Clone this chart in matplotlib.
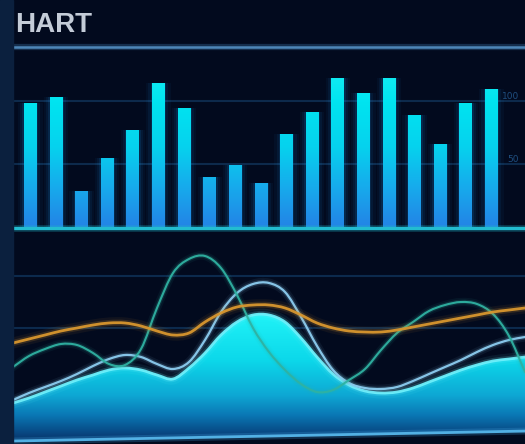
import numpy as np
import matplotlib.pyplot as plt
from matplotlib.colors import LinearSegmentedColormap
from matplotlib.lines import Line2D
from matplotlib.patches import Rectangle, PathPatch
from matplotlib.path import Path

W, H = 525, 444

title = "HART"

# bar panel
bar_values = [98, 103, 29, 55, 77, 114, 94, 40, 49, 35, 74, 91, 118, 106, 118, 89, 66, 98, 109]
bar_ticks = [50, 100]
bar_tick_labels = ["50", "100"]

# line panel, one reading every 16 px across
area_values = [20.5, 23, 26, 29, 32, 34.5, 37, 38, 37, 34.5, 32.5, 38, 45.5, 54.5, 61, 64.5, 64.5,
               61, 53, 43.5, 35, 29.5, 26.5, 25.5, 26, 28, 31, 34, 37, 39.5, 41.5, 42.5, 43.5]
pale_values = [22, 25.5, 28.5, 31.5, 35, 39, 42.5, 44.5, 43.5, 40, 37.5, 41, 52, 66, 75.5, 80, 80.5,
               76, 63.5, 49, 37, 30.5, 28, 27.5, 28.5, 31.5, 35, 38.5, 42, 46, 49.5, 52, 53.5]
teal_values = [38.5, 44, 47.5, 50, 49.5, 45.5, 40, 39.5, 47.5, 68, 85.5, 92.5, 94, 88, 74.5, 58, 46,
               37, 30, 26, 27, 32, 37.5, 47, 55.5, 61, 66.5, 69.5, 71, 70, 65, 54, 36]
orange_values = [50.5, 52.5, 54.5, 56.5, 58, 59.5, 60.5, 60.5, 59, 56.5, 54.5, 55.5, 61, 65.5, 68.5, 69.5, 69.5,
                 68, 64.5, 60.5, 58, 56.5, 56, 56, 57, 58.5, 60, 61.5, 63, 64.5, 66, 67, 68]
line_grid = [58, 84]

bg = "#020a1e"
strip = "#0b203e"


def curve_path(x, y, close_to=None):
    # bezier through the read points, so the lines come out smooth
    p = np.column_stack([x, y]).astype(float)
    n = len(p)
    d = np.zeros_like(p)
    d[1:-1] = (p[2:] - p[:-2]) / 6
    d[0] = (p[1] - p[0]) / 3
    d[-1] = (p[-1] - p[-2]) / 3
    verts = [p[0]]
    codes = [Path.MOVETO]
    for i in range(n - 1):
        verts += [p[i] + d[i], p[i + 1] - d[i + 1], p[i + 1]]
        codes += [Path.CURVE4] * 3
    if close_to is not None:
        verts += [(p[-1, 0], close_to), (p[0, 0], close_to), p[0]]
        codes += [Path.LINETO, Path.LINETO, Path.CLOSEPOLY]
    return Path(verts, codes)


def glow_curve(ax, x, y, color, lw, z):
    path = curve_path(x, y)
    for k, a in [(4, 0.07), (2.2, 0.18), (1, 0.95)]:
        ax.add_patch(PathPatch(path, fill=False, edgecolor=color, lw=lw * k, alpha=a,
                               capstyle="round", zorder=z))


fig = plt.figure(figsize=(W / 100, H / 100), dpi=100, facecolor=bg)
fig.add_artist(Rectangle((0, 0), 13 / W, 1, transform=fig.transFigure, color=strip, zorder=5))

fig.text(15 / W, 1 - 24.5 / H, title, fontsize=20, fontweight="bold", family="Liberation Sans",
         color="#c4ccd8", va="center", ha="left")
fig.add_artist(Line2D([13 / W, 1], [1 - 47 / H] * 2, transform=fig.transFigure,
                      color="#3b74a6", lw=4.5, alpha=0.35))
fig.add_artist(Line2D([13 / W, 1], [1 - 47 / H] * 2, transform=fig.transFigure,
                      color="#4d86b8", lw=1.8))

# ---- bars
axb = fig.add_axes([13 / W, 1 - 227.5 / H, 512 / W, (227.5 - 50) / H])
axb.set_facecolor("none")
x = np.arange(len(bar_values))
for w, a in [(0.95, 0.05), (0.78, 0.08), (0.62, 0.13)]:
    axb.bar(x, bar_values, width=w, color="#1b8fe0", alpha=a, lw=0, zorder=2)
bars = axb.bar(x, bar_values, width=0.5, color="none", lw=0, zorder=3)
bar_cmap = LinearSegmentedColormap.from_list(
    "bars", [(0, "#2384e6"), (0.22, "#17aaec"), (0.45, "#06d2ee"), (0.7, "#00e4f0"), (1, "#1ff2f4")])
grad = np.linspace(0, 1, 256).reshape(-1, 1)
for b in bars:
    im = axb.imshow(grad, extent=(b.get_x(), b.get_x() + b.get_width(), 0, 140), origin="lower",
                    aspect="auto", cmap=bar_cmap, zorder=3)
    im.set_clip_path(b)

axb.axhline(0, color="#1fb4c8", lw=5, alpha=0.25, zorder=4, clip_on=False)
axb.axhline(0, color="#22bcd0", lw=2.4, zorder=4, clip_on=False)
axb.set_xlim(-0.68, 19.31)
axb.set_ylim(0, 140)
axb.set_yticks(bar_ticks)
axb.set_yticklabels(bar_tick_labels, ha="right", va="bottom")
axb.yaxis.tick_right()
axb.tick_params(axis="y", length=0, pad=-4.5, labelsize=6.5, labelcolor="#1f4f80")
axb.set_xticks([])
axb.grid(axis="y", color="#0d2a4c", lw=1.5)
axb.set_axisbelow(True)
for s in axb.spines.values():
    s.set_visible(False)

# ---- lines
axl = fig.add_axes([13 / W, 0, 512 / W, (444 - 232) / H])
axl.set_facecolor("none")
xs = np.arange(len(area_values))

area_patch = PathPatch(curve_path(xs, area_values, close_to=0), facecolor="none", lw=0, zorder=2)
axl.add_patch(area_patch)
area_cmap = LinearSegmentedColormap.from_list(
    "area", [(0, "#062e5c"), (0.064, "#08427c"), (0.207, "#0a78b5"), (0.35, "#0ea8d4"),
             (0.6, "#0cd8ea"), (0.92, "#1ff2f7"), (1, "#30f4f8")])
im = axl.imshow(grad, extent=(0, 32, 0, 70), origin="lower", aspect="auto", cmap=area_cmap, zorder=2)
im.set_clip_path(area_patch)
glow_curve(axl, xs, area_values, "#6ef0fb", 2.0, 3)

glow_curve(axl, xs, pale_values, "#8ccdf0", 1.6, 4)
glow_curve(axl, xs, teal_values, "#2fb2a2", 1.5, 5)
glow_curve(axl, xs, orange_values, "#d8962e", 2.0, 6)

# bottom rail
axl.fill([0, 1, 1, 0], [0, 0, 0.061, 0.014], transform=axl.transAxes, color=bg, lw=0, zorder=7)
axl.plot([0, 1], [0.014, 0.061], transform=axl.transAxes, color="#3fa0dc", lw=5, alpha=0.25, zorder=8)
axl.plot([0, 1], [0.014, 0.061], transform=axl.transAxes, color="#52b0e4", lw=2, zorder=8)

axl.set_xlim(0, 32)
axl.set_ylim(0, 106)
axl.set_yticks(line_grid)
axl.set_xticks([])
axl.tick_params(axis="y", length=0, labelleft=False)
axl.grid(axis="y", color="#0c2a4d", lw=1.5)
axl.set_axisbelow(True)
for s in axl.spines.values():
    s.set_visible(False)

plt.savefig("out.png", dpi=100, facecolor=bg)
